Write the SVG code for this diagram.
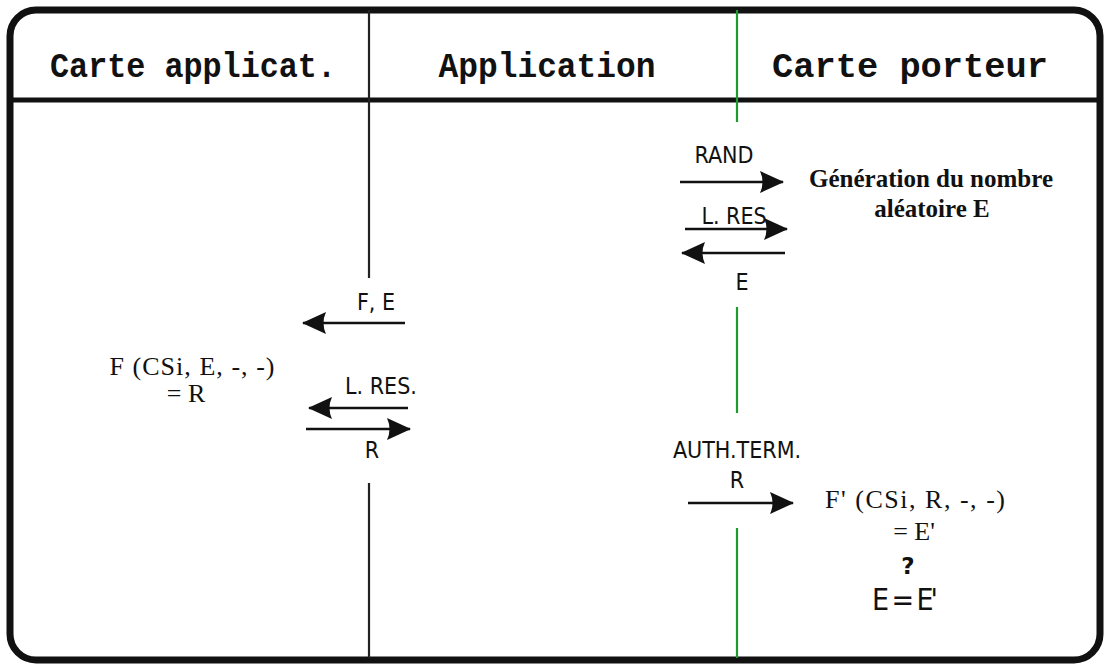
<svg xmlns="http://www.w3.org/2000/svg" width="1106" height="666" viewBox="0 0 1106 666">
<style>
.frame{fill:#fff;stroke:#111;stroke-width:7}
.hline{stroke:#111;stroke-width:5}
.life{stroke:#222;stroke-width:2.2;fill:none}
.life.g{stroke:#1f9a2e}
.arr{stroke:#111;stroke-width:2.6;fill:none;marker-end:url(#ah)}
.hdr{font-family:"Liberation Mono",monospace;font-weight:bold;font-size:35px;fill:#111;text-anchor:middle}
.lbl{font-family:"DejaVu Sans Condensed","DejaVu Sans",sans-serif;font-size:23px;fill:#111;text-anchor:middle}
.txt{font-family:"Liberation Serif",serif;font-size:26px;fill:#111;text-anchor:middle}
.txtb{font-family:"Liberation Serif",serif;font-weight:bold;font-size:25px;fill:#111;text-anchor:middle}
</style>
<defs>
<marker id="ah" viewBox="0 0 24 22" refX="23" refY="11" markerWidth="24" markerHeight="22" markerUnits="userSpaceOnUse" orient="auto">
<path d="M0,0 L24,11 L0,22 Q5,11 0,0 z" fill="#111"/>
</marker>
</defs>
<rect class="frame" x="10" y="10" width="1090" height="650" rx="26"/>
<line class="hline" x1="10" y1="100" x2="1100" y2="100"/>
<g id="lane-carte-applicat">
<text class="hdr" x="193" y="77" textLength="286" lengthAdjust="spacingAndGlyphs">Carte applicat.</text>
<line class="life" x1="369" y1="10" x2="369" y2="278"/>
<line class="life" x1="369" y1="483" x2="369" y2="658"/>
</g>
<g id="lane-application">
<text class="hdr" x="547" y="77" textLength="217" lengthAdjust="spacingAndGlyphs">Application</text>
</g>
<g id="lane-carte-porteur">
<text class="hdr" x="910" y="77" textLength="276" lengthAdjust="spacingAndGlyphs">Carte porteur</text>
<line class="life g" x1="737" y1="10" x2="737" y2="122"/>
<line class="life g" x1="737" y1="307" x2="737" y2="413"/>
<line class="life g" x1="737" y1="528" x2="737" y2="658"/>
</g>
<g id="node-generation">
<text class="txtb" x="931" y="187">Génération du nombre</text>
<text class="txtb" x="932" y="217">aléatoire E</text>
</g>
<g id="node-f-r">
<text class="txt" x="192" y="375" textLength="165">F (CSi, E, -, -)</text>
<text class="txt" x="186" y="402">= R</text>
</g>
<g id="node-fprime">
<text class="txt" x="915" y="508" font-size="27" textLength="180">F' (CSi, R, -, -)</text>
<text class="txt" x="914" y="540" font-size="27">= E'</text>
</g>
<g id="node-compare">
<text x="908" y="574" font-family="DejaVu Sans, sans-serif" font-weight="bold" font-size="23" text-anchor="middle" fill="#111">?</text>
<text x="905" y="610" font-family="DejaVu Sans Condensed, DejaVu Sans, sans-serif" font-size="30" text-anchor="middle" fill="#111" textLength="66">E = E'</text>
</g>
<g id="connectors">
<line class="arr" x1="405" y1="323" x2="303" y2="323"/>
<text class="lbl" x="376" y="310">F, E</text>
<line class="arr" x1="408" y1="408" x2="309" y2="408"/>
<text class="lbl" x="381" y="394">L. RES.</text>
<line class="arr" x1="306" y1="429" x2="410" y2="429"/>
<text class="lbl" x="372" y="458">R</text>
<line class="arr" x1="680" y1="182" x2="783" y2="182"/>
<text class="lbl" x="724" y="163">RAND</text>
<line class="arr" x1="685" y1="229" x2="787" y2="229"/>
<text class="lbl" x="734" y="224">L. RES</text>
<line class="arr" x1="785" y1="253" x2="682" y2="253"/>
<text class="lbl" x="742" y="290">E</text>
<line class="arr" x1="688" y1="503" x2="793" y2="503"/>
<text class="lbl" x="737" y="458">AUTH.TERM.</text>
<text class="lbl" x="737" y="488">R</text>
</g>
</svg>
